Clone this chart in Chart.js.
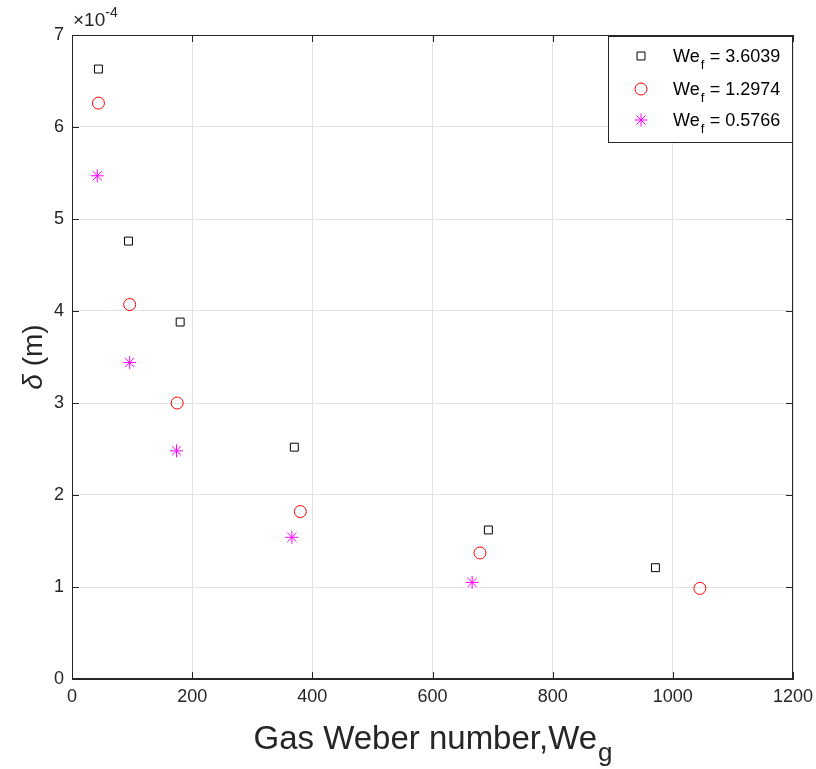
<!DOCTYPE html>
<html>
<head>
<meta charset="utf-8">
<script src="https://cdn.jsdelivr.net/npm/chart.js@4/dist/chart.umd.min.js"></script>
<style>
  html, body { margin: 0; padding: 0; background: #fff; }
  #wrap { width: 816px; height: 769px; }
</style>
</head>
<body>
<div id="wrap"><canvas id="scatter"></canvas></div>
<script>
// Gas Weber number (x) and film thickness delta in m (y), one pair of arrays per liquid Weber number
const weg_36039 = [44, 94, 180, 370, 693, 971];
const delta_36039 = [6.63e-4, 4.76e-4, 3.88e-4, 2.52e-4, 1.62e-4, 1.21e-4];
const weg_12974 = [44, 96, 175, 380, 679, 1045];
const delta_12974 = [6.26e-4, 4.07e-4, 3.00e-4, 1.82e-4, 1.37e-4, 0.985e-4];
const weg_05766 = [42, 96, 174, 366, 666];
const delta_05766 = [5.47e-4, 3.44e-4, 2.48e-4, 1.54e-4, 1.05e-4];

const seriesNames = ['3.6039', '1.2974', '0.5766'];
const xTicks = [0, 200, 400, 600, 800, 1000, 1200];
const yTicks = [0, 1, 2, 3, 4, 5, 6, 7]; // in units of 1e-4

function pairs(xs, ys) {
    return xs.map((x, i) => ({x: x, y: ys[i]}));
}

const FONT = '"Liberation Sans", Arial, sans-serif';
const AXIS = '#262626';

const styles = [
    {pointStyle: 'rect', radius: 5.6, color: '#000000'},
    {pointStyle: 'circle', radius: 6, color: '#ff0000'},
    {pointStyle: 'star', radius: 6.5, color: '#ff00ff'}
];

// draws box, inward ticks, exponent, axis titles and legend
const matlabLook = {
    id: 'matlabLook',
    afterDraw(chart) {
        const ctx = chart.ctx;
        const a = chart.chartArea;
        const xs = chart.scales.x, ys = chart.scales.y;
        ctx.save();
        ctx.strokeStyle = AXIS;
        ctx.lineWidth = 1;
        ctx.strokeRect(a.left + 0.5, a.top + 0.5, a.right - a.left - 1, a.bottom - a.top - 1);
        // inward ticks on all four sides
        ctx.beginPath();
        for (const t of xTicks) {
            const px = Math.round(xs.getPixelForValue(t)) + 0.5;
            ctx.moveTo(px, a.bottom); ctx.lineTo(px, a.bottom - 7);
            ctx.moveTo(px, a.top); ctx.lineTo(px, a.top + 7);
        }
        for (const t of yTicks) {
            const py = Math.round(ys.getPixelForValue(t * 1e-4)) + 0.5;
            ctx.moveTo(a.left, py); ctx.lineTo(a.left + 7, py);
            ctx.moveTo(a.right, py); ctx.lineTo(a.right - 7, py);
        }
        ctx.stroke();

        ctx.fillStyle = AXIS;
        // exponent label
        ctx.textBaseline = 'alphabetic';
        ctx.textAlign = 'left';
        ctx.font = '19px ' + FONT;
        ctx.fillText('\u00d710', a.left + 1, a.top - 9);
        const w10 = ctx.measureText('\u00d710').width;
        ctx.font = '14px ' + FONT;
        ctx.fillText('-4', a.left + 1 + w10, a.top - 18);

        // x axis title with subscript g
        ctx.font = '33px ' + FONT;
        const main = 'Gas Weber number,We';
        const wMain = ctx.measureText(main).width;
        ctx.font = '26px ' + FONT;
        const wSub = ctx.measureText('g').width;
        let sx = (a.left + a.right) / 2 - (wMain + wSub) / 2;
        ctx.font = '33px ' + FONT;
        ctx.fillText(main, sx, 749);
        ctx.font = '26px ' + FONT;
        ctx.fillText('g', sx + wMain + 1, 761);

        // y axis title
        ctx.save();
        ctx.translate(42, (a.top + a.bottom) / 2);
        ctx.rotate(-Math.PI / 2);
        ctx.font = 'italic 28px ' + FONT;
        const wd = ctx.measureText('\u03b4').width;
        ctx.font = '28px ' + FONT;
        const wr = ctx.measureText(' (m)').width;
        const start = -(wd + wr) / 2;
        ctx.textAlign = 'left';
        ctx.font = 'italic 28px ' + FONT;
        ctx.fillText('\u03b4', start, 0);
        ctx.font = '28px ' + FONT;
        ctx.fillText(' (m)', start + wd, 0);
        ctx.restore();

        // legend
        const lx = 608.5, ly = 36.5, lw = 184, lh = 106;
        ctx.fillStyle = '#ffffff';
        ctx.fillRect(lx, ly, lw, lh);
        ctx.strokeStyle = AXIS;
        ctx.strokeRect(lx, ly, lw, lh);
        const rows = [56, 89, 120];
        seriesNames.forEach((name, i) => {
            const st = styles[i];
            ctx.strokeStyle = st.color;
            ctx.fillStyle = 'rgba(0,0,0,0)';
            ctx.lineWidth = 1;
            Chart.helpers.drawPoint(ctx, {pointStyle: st.pointStyle, radius: st.radius, rotation: 0, borderWidth: 1}, 641, rows[i]);
            ctx.fillStyle = '#000000';
            ctx.font = '18px ' + FONT;
            ctx.fillText('We', 673, rows[i] + 6);
            const wWe = ctx.measureText('We').width;
            ctx.font = '13px ' + FONT;
            ctx.fillText('f', 673 + wWe + 1, rows[i] + 13);
            ctx.font = '18px ' + FONT;
            ctx.fillText(' = ' + name, 673 + wWe + 5, rows[i] + 6);
        });
        ctx.restore();
    }
};

const ctx = document.getElementById('scatter').getContext('2d');
const chart = new Chart(ctx, {
    type: 'scatter',
    data: {
        datasets: [
            {label: 'We_f = 3.6039', data: pairs(weg_36039, delta_36039)},
            {label: 'We_f = 1.2974', data: pairs(weg_12974, delta_12974)},
            {label: 'We_f = 0.5766', data: pairs(weg_05766, delta_05766)}
        ].map((d, i) => Object.assign(d, {
            pointStyle: styles[i].pointStyle,
            pointRadius: styles[i].radius,
            pointHoverRadius: styles[i].radius,
            pointBorderColor: styles[i].color,
            pointBackgroundColor: 'rgba(0,0,0,0)',
            pointBorderWidth: 1,
            showLine: false
        }))
    },
    options: {
        responsive: true,
        maintainAspectRatio: false,
        animation: false,
        events: [],
        layout: {padding: {top: 35, right: 23, left: 0, bottom: 0}},
        plugins: {legend: {display: false}, tooltip: {enabled: false}},
        scales: {
            x: {
                type: 'linear', min: 0, max: 1200,
                afterFit: s => { s.height = 90; s.paddingRight = 0; s.paddingLeft = 0; },
                afterBuildTicks: s => { s.ticks = xTicks.map(v => ({value: v})); },
                ticks: {color: AXIS, font: {family: FONT, size: 18}, padding: 7, maxRotation: 0,
                    callback: v => String(v)},
                grid: {color: '#e3e3e3', drawTicks: false},
                border: {color: AXIS}
            },
            y: {
                type: 'linear', min: 0, max: 7e-4,
                afterFit: s => { s.width = 72; s.paddingTop = 0; s.paddingBottom = 0; },
                afterBuildTicks: s => { s.ticks = yTicks.map(v => ({value: v * 1e-4})); },
                ticks: {color: AXIS, font: {family: FONT, size: 18}, padding: 8,
                    callback: v => String(Math.round(v * 1e4))},
                grid: {color: '#e3e3e3', drawTicks: false},
                border: {color: AXIS}
            }
        }
    },
    plugins: [matlabLook]
});
</script>
</body>
</html>
